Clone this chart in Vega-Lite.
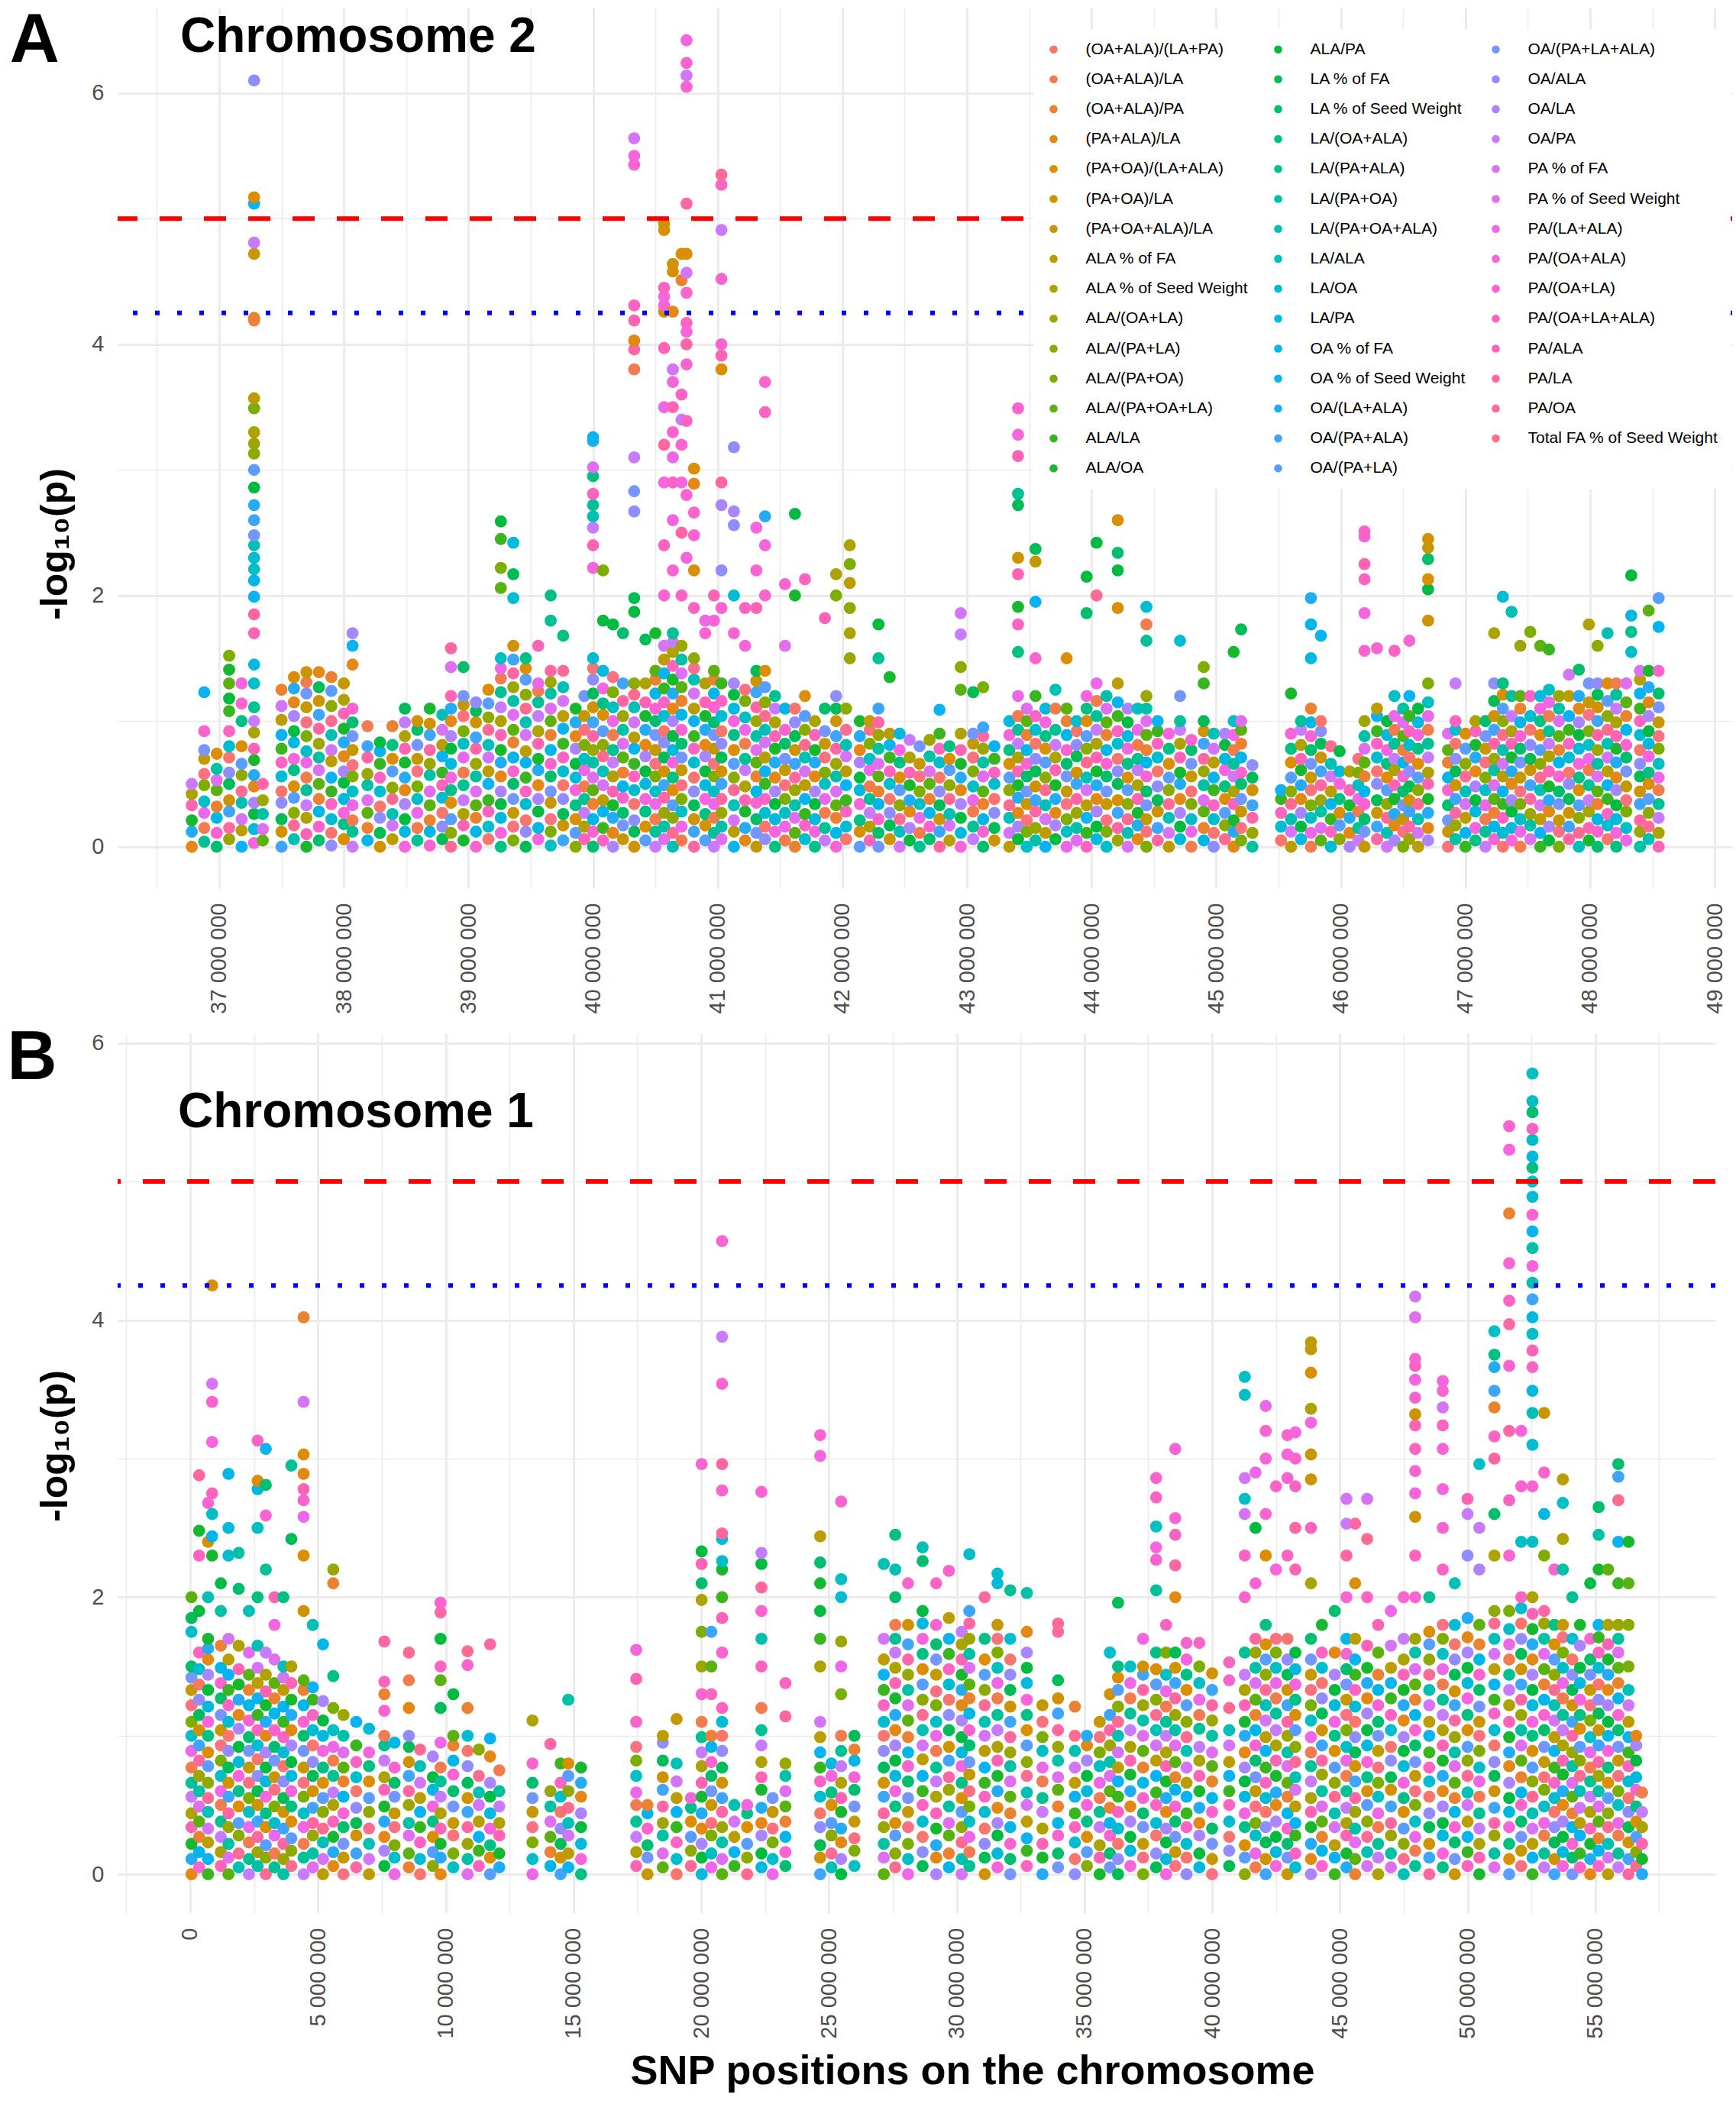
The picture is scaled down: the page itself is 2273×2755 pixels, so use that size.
{
"$schema":"https://vega.github.io/schema/vega-lite/v6.json",
"background":"white",
"padding":{"left":9,"top":8,"right":2,"bottom":2},
"spacing":12,
"config":{"view":{"stroke":null},"font":"Liberation Sans",
"locale":{"number":{"decimal":".","thousands":" ","grouping":[3],"currency":["",""]}},
"axis":{"domain":false,"ticks":false,"tickSize":0,"gridColor":"#EBEBEB","labelColor":"#4D4D4D","labelFontSize":29,"labelFont":"Liberation Sans","titleFont":"Liberation Sans","titleFontWeight":"bold","titleColor":"#000000","labelOverlap":false,"labelFlush":false}},
"resolve":{"scale":{"color":"independent"},"legend":{"color":"independent"}},
"datasets":{
"traits":[{"i":0,"trait":"(OA+ALA)/(LA+PA)"},{"i":1,"trait":"(OA+ALA)/LA"},{"i":2,"trait":"(OA+ALA)/PA"},{"i":3,"trait":"(PA+ALA)/LA"},{"i":4,"trait":"(PA+OA)/(LA+ALA)"},{"i":5,"trait":"(PA+OA)/LA"},{"i":6,"trait":"(PA+OA+ALA)/LA"},{"i":7,"trait":"ALA % of FA"},{"i":8,"trait":"ALA % of Seed Weight"},{"i":9,"trait":"ALA/(OA+LA)"},{"i":10,"trait":"ALA/(PA+LA)"},{"i":11,"trait":"ALA/(PA+OA)"},{"i":12,"trait":"ALA/(PA+OA+LA)"},{"i":13,"trait":"ALA/LA"},{"i":14,"trait":"ALA/OA"},{"i":15,"trait":"ALA/PA"},{"i":16,"trait":"LA % of FA"},{"i":17,"trait":"LA % of Seed Weight"},{"i":18,"trait":"LA/(OA+ALA)"},{"i":19,"trait":"LA/(PA+ALA)"},{"i":20,"trait":"LA/(PA+OA)"},{"i":21,"trait":"LA/(PA+OA+ALA)"},{"i":22,"trait":"LA/ALA"},{"i":23,"trait":"LA/OA"},{"i":24,"trait":"LA/PA"},{"i":25,"trait":"OA % of FA"},{"i":26,"trait":"OA % of Seed Weight"},{"i":27,"trait":"OA/(LA+ALA)"},{"i":28,"trait":"OA/(PA+ALA)"},{"i":29,"trait":"OA/(PA+LA)"},{"i":30,"trait":"OA/(PA+LA+ALA)"},{"i":31,"trait":"OA/ALA"},{"i":32,"trait":"OA/LA"},{"i":33,"trait":"OA/PA"},{"i":34,"trait":"PA % of FA"},{"i":35,"trait":"PA % of Seed Weight"},{"i":36,"trait":"PA/(LA+ALA)"},{"i":37,"trait":"PA/(OA+ALA)"},{"i":38,"trait":"PA/(OA+LA)"},{"i":39,"trait":"PA/(OA+LA+ALA)"},{"i":40,"trait":"PA/ALA"},{"i":41,"trait":"PA/LA"},{"i":42,"trait":"PA/OA"},{"i":43,"trait":"Total FA % of Seed Weight"}],
"chr2":[
{"x":36.78,"y":[0,12,21,33,42,50],"t":[3,27,14,40,8,33]},
{"x":36.88,"y":[4,15,27,36,49,58,70,77,92,123],"t":[19,1,36,22,11,43,6,30,38,26]},
{"x":36.98,"y":[0,11,23,32,45,53,62,74],"t":[17,38,25,2,12,35,20,4]},
{"x":37.08,"y":[6,15,28,37,50,59,71,80,92,108,118,130,141,152],"t":[9,41,28,5,16,31,0,23,39,13,15,12,14,11]},
{"x":37.18,"y":[0,13,22,35,44,57,66,80,100,114,130],"t":[26,7,34,21,42,10,29,4,18,38,37]},
{"x":37.28,"y":[3,14,26,35,48,57,69,78,91,100,111,130,145,170,185,199,212,221,230,240,248,260,272,286,300,313,321,330,349,357,419,421,472,481,512,517,610],"t":[37,24,15,32,3,27,14,40,8,33,19,22,24,40,41,26,25,22,23,21,30,28,27,15,29,10,9,8,11,7,1,2,6,33,26,4,31]},
{"x":37.35,"y":[5,14,26,37,50],"t":[12,35,20,9,41]},
{"x":37.5,"y":[0,12,22,35,44,56,67,78,89,101,112,125],"t":[28,5,16,31,0,23,39,13,26,7,34,2]},
{"x":37.6,"y":[6,17,27,39,48,61,70,83,92,104,115,126,135],"t":[21,42,10,29,4,18,37,24,15,32,3,27,4]},
{"x":37.7,"y":[0,10,23,33,45,55,67,76,88,99,111,122,131,139],"t":[14,40,8,33,19,1,36,22,11,43,6,30,1,5]},
{"x":37.8,"y":[5,16,28,38,50,61,71,82,94,105,116,127,139],"t":[17,38,25,2,12,35,20,9,41,28,5,16,3]},
{"x":37.9,"y":[1,11,22,34,44,55,68,77,89,100,112,124,135],"t":[31,0,23,39,13,26,7,34,21,42,10,29,2]},
{"x":38.0,"y":[6,18,27,38,51,60,72,83,94,106,117,130],"t":[4,18,37,24,15,32,3,27,14,40,8,6]},
{"x":38.07,"y":[0,12,21,33,44,56,65,77,88,99,110,145,160,170],"t":[33,19,1,36,22,11,43,6,30,17,38,3,26,32]},
{"x":38.19,"y":[5,15,27,37,49,58,71,80,96],"t":[25,2,12,35,20,9,41,28,1]},
{"x":38.29,"y":[0,11,23,32,44,55,66,76,83],"t":[5,16,31,0,23,39,13,26,15]},
{"x":38.39,"y":[6,17,26,38,47,60,70,81,96],"t":[7,34,21,42,10,29,4,18,2]},
{"x":38.49,"y":[0,12,22,34,45,55,67,78,88,99,110],"t":[37,24,15,32,3,27,14,40,8,33,16]},
{"x":38.59,"y":[5,15,27,38,48,60,70,81,93,100],"t":[19,1,36,22,11,43,6,30,17,5]},
{"x":38.69,"y":[1,12,21,33,44,57,66,77,89,98,110],"t":[38,25,2,12,35,20,9,41,28,5,14]},
{"x":38.79,"y":[6,16,27,39,49,59,72,81,93,105],"t":[16,31,0,23,39,13,26,7,34,21]},
{"x":38.86,"y":[0,11,22,35,45,55,66,78,88,100,110,120,143,158],"t":[42,10,29,4,18,37,24,15,32,3,27,40,35,41]},
{"x":38.96,"y":[5,17,26,37,49,59,71,82,92,104,113,120,143],"t":[14,40,8,33,19,1,36,22,11,43,6,30,17]},
{"x":39.06,"y":[0,12,23,33,44,56,66,78,87,99,108,115],"t":[38,25,2,12,35,20,9,41,28,5,16,31]},
{"x":39.16,"y":[6,16,28,37,50,60,71,81,93,103,114,125],"t":[0,23,39,13,26,7,34,21,42,10,29,4]},
{"x":39.26,"y":[0,11,23,34,44,56,67,77,89,100,111,123,134,142,150,206,222,245,259],"t":[18,37,24,15,32,3,27,14,40,8,33,19,1,36,22,12,11,13,15]},
{"x":39.36,"y":[5,16,27,38,50,60,71,83,93,105,116,127,138,149,160,198,217,242],"t":[11,43,6,30,17,38,25,2,12,35,20,9,41,28,5,23,16,24]},
{"x":39.46,"y":[0,12,21,34,44,55,67,76,89,99,110,121,133,142,150],"t":[16,31,0,23,39,13,26,7,34,21,42,10,29,4,18]},
{"x":39.56,"y":[6,15,28,38,49,61,70,82,92,104,115,124,130,160],"t":[37,24,15,32,3,27,14,40,8,33,19,1,36,40]},
{"x":39.66,"y":[1,12,22,35,44,56,66,77,89,100,110,122,131,140,180,200],"t":[22,11,43,6,30,17,38,25,2,12,35,20,9,41,19,18]},
{"x":39.76,"y":[5,17,26,38,49,60,71,82,94,104,116,127,140,168],"t":[28,5,16,31,0,23,39,13,26,7,34,21,42,18]},
{"x":39.86,"y":[0,11,22,33,45,55,66,78,88,99,110],"t":[10,29,4,18,37,24,15,32,3,27,14]},
{"x":39.93,"y":[6,16,27,38,48,61,70,81,93,104,120],"t":[40,8,33,19,1,36,22,11,43,6,30]},
{"x":40.0,"y":[0,12,22,34,45,55,67,77,88,99,111,122,133,142,150,222,240,254,263,272,281,295,302,323,326],"t":[17,38,25,2,12,35,20,9,41,28,5,16,31,0,23,37,40,33,21,19,39,18,35,27,26]},
{"x":40.08,"y":[5,15,28,37,49,60,72,81,92,105,114,126,140,180,220],"t":[39,13,26,7,34,21,42,10,29,4,18,37,24,15,11]},
{"x":40.16,"y":[0,11,23,33,44,56,67,77,89,100,111,123,135,177],"t":[32,3,27,14,40,8,33,19,1,36,22,11,43,15]},
{"x":40.24,"y":[6,17,27,39,48,59,71,82,93,104,116,130,170],"t":[6,30,17,38,25,2,12,35,20,9,41,28,17]},
{"x":40.33,"y":[0,12,21,34,45,56,66,78,87,99,111,121,130,187,198,267,283,310,380,396,403,419,431,543,550,564],"t":[5,16,31,0,23,39,13,26,7,34,21,42,10,15,16,31,30,33,1,41,3,40,39,38,37,34]},
{"x":40.42,"y":[5,16,28,38,50,60,72,81,93,104,115,130,165],"t":[29,4,18,37,24,15,32,3,27,14,40,8,16]},
{"x":40.5,"y":[0,12,22,34,44,56,66,77,89,100,110,122,133,140,170],"t":[33,19,1,36,22,11,43,6,30,17,38,25,2,12,14]},
{"x":40.57,"y":[6,16,27,39,49,60,71,83,92,104,115,126,138,149,160,200,240,290,320,350,397,426,431,438,445,491,496],"t":[35,20,9,41,28,5,16,31,0,23,39,13,26,7,34,38,39,37,41,36,40,5,38,37,39,4,5]},
{"x":40.64,"y":[0,11,23,33,45,55,67,77,88,100,110,122,133,144,155,163,170,220,260,290,310,330,350,370,380,426,458,464],"t":[21,42,10,29,4,18,37,24,15,32,3,27,14,40,8,33,19,38,37,39,36,38,40,37,34,3,4,5]},
{"x":40.71,"y":[5,16,28,38,49,61,71,82,93,105,116,127,138,149,160,200,250,290,320,340,360,451,472],"t":[1,36,22,11,43,6,30,17,38,25,2,12,35,20,9,39,41,37,38,33,39,2,4]},
{"x":40.75,"y":[230,280,339,384,400,410,417,441,457,472,512,605,614,624,642],"t":[37,38,39,38,41,37,39,38,34,4,41,38,34,38,37]},
{"x":40.81,"y":[0,12,22,33,44,55,67,78,88,100,110,122,133,142,150,190,220,248,266,289,301],"t":[41,28,5,16,31,0,23,39,13,26,7,34,21,42,10,39,4,38,38,3,4]},
{"x":40.9,"y":[5,17,26,38,49,60,72,81,93,104,115,130,170,180],"t":[29,4,18,37,24,15,32,3,27,14,40,8,38,36]},
{"x":40.97,"y":[0,11,23,34,44,56,66,78,89,99,111,122,133,140,180,200],"t":[33,19,1,36,22,11,43,6,30,17,38,25,2,12,37,40]},
{"x":41.03,"y":[6,16,27,38,50,60,71,82,92,104,116,130,190,220,272,290,380,391,400,452,491,527,535],"t":[35,20,9,41,28,5,16,31,0,23,39,13,38,31,32,41,4,40,38,38,33,39,42]},
{"x":41.13,"y":[0,12,21,33,45,55,66,77,89,100,110,121,130,170,200,256,267,318],"t":[26,7,34,21,42,10,29,4,18,37,24,15,32,38,23,31,32,31]},
{"x":41.22,"y":[5,15,28,37,48,61,70,82,93,103,116,125,160,190],"t":[3,27,14,40,8,33,19,1,36,22,11,43,37,39]},
{"x":41.31,"y":[0,11,22,35,44,56,67,77,88,100,111,123,132,140,190,220,254],"t":[6,30,17,38,25,2,12,35,20,9,41,28,5,16,40,38,37]},
{"x":41.38,"y":[6,16,27,38,50,60,71,83,93,104,115,127,140,200,240,263,346,370],"t":[31,0,23,39,13,26,7,34,21,42,10,29,4,38,37,27,39,38]},
{"x":41.46,"y":[0,12,22,34,44,55,67,78,88,99,110,120],"t":[18,37,24,15,32,3,27,14,40,8,33,19]},
{"x":41.54,"y":[5,16,27,38,49,61,70,82,93,110,160,209],"t":[1,36,22,11,43,6,30,17,38,25,35,38]},
{"x":41.62,"y":[0,11,23,33,45,55,66,77,88,99,110,200,265],"t":[2,12,35,20,9,41,28,5,16,31,0,14,15]},
{"x":41.7,"y":[6,17,26,38,49,60,71,81,93,104,120,213],"t":[23,39,13,26,7,34,21,42,10,29,4,39]},
{"x":41.78,"y":[0,12,22,34,44,56,67,77,89,100],"t":[18,37,24,15,32,3,27,14,40,8]},
{"x":41.86,"y":[5,15,27,38,50,59,71,82,92,110,182],"t":[33,19,1,36,22,11,43,6,30,17,40]},
{"x":41.95,"y":[0,11,23,33,44,56,66,78,88,100,110,120,200,217],"t":[38,25,2,12,35,20,9,41,28,5,16,31,11,8]},
{"x":42.03,"y":[6,16,28,37,49,60,72,81,93,110],"t":[0,23,39,13,26,7,34,21,42,10]},
{"x":42.06,"y":[150,170,190,210,225,240],"t":[9,8,10,7,11,8]},
{"x":42.14,"y":[0,12,21,34,45,55,67,77,88,100],"t":[29,4,18,37,24,15,32,3,27,14]},
{"x":42.22,"y":[5,16,27,38,48,61,70,82,93,100],"t":[40,8,33,19,1,36,22,11,43,6]},
{"x":42.29,"y":[0,11,22,34,44,56,66,78,89,99,110,150,177],"t":[30,17,38,25,2,12,35,20,9,41,28,19,15]},
{"x":42.38,"y":[6,17,27,38,50,60,71,81,90,135],"t":[5,16,31,0,23,39,13,26,7,14]},
{"x":42.46,"y":[0,12,22,33,45,55,67,77,90],"t":[34,21,42,10,29,4,18,37,24]},
{"x":42.54,"y":[5,15,28,37,49,59,71,85],"t":[15,32,3,27,14,40,8,33]},
{"x":42.62,"y":[0,11,23,34,44,56,66,80],"t":[19,1,36,22,11,43,6,30]},
{"x":42.7,"y":[6,16,27,38,50,60,72,85],"t":[17,38,25,2,12,35,20,9]},
{"x":42.78,"y":[0,12,22,33,44,55,67,78,90,109],"t":[41,28,5,16,31,0,23,39,13,26]},
{"x":42.86,"y":[5,17,26,38,49,61,70,80],"t":[7,34,21,42,10,29,4,18]},
{"x":42.95,"y":[0,11,23,34,45,55,66,77,90,125,143,169,186],"t":[37,24,15,32,3,27,14,40,8,12,10,33,34]},
{"x":43.05,"y":[6,16,28,37,48,60,71,82,90,123],"t":[33,19,1,36,22,11,43,6,30,16]},
{"x":43.13,"y":[0,12,22,34,44,56,67,78,88,95,127],"t":[17,38,25,2,12,35,20,9,41,28,11]},
{"x":43.22,"y":[5,15,27,38,50,59,70,80],"t":[5,16,31,0,23,39,13,26]},
{"x":43.34,"y":[0,11,23,33,45,55,66,77,89,100],"t":[7,34,21,42,10,29,4,18,37,24]},
{"x":43.41,"y":[6,16,27,39,49,60,71,82,93,104,120,155,177,191,217,230,272,281,311,328,349],"t":[15,32,3,27,14,40,8,33,19,1,36,18,39,14,40,5,16,19,40,37,38]},
{"x":43.48,"y":[0,12,21,34,44,56,66,77,89,100,110],"t":[22,11,43,6,30,17,38,25,2,12,35]},
{"x":43.55,"y":[5,15,28,37,48,60,70,82,93,104,120,150,195,227,237],"t":[20,9,41,28,5,16,31,0,23,39,13,38,26,6,16]},
{"x":43.63,"y":[0,11,22,33,45,55,67,78,88,99,110],"t":[26,7,34,21,42,10,29,4,18,37,24]},
{"x":43.71,"y":[6,17,27,38,49,61,71,81,93,110,125],"t":[15,32,3,27,14,40,8,33,19,1,21]},
{"x":43.8,"y":[0,12,22,34,44,56,66,77,89,100,110,150],"t":[36,22,11,43,6,30,17,38,25,2,12,4]},
{"x":43.88,"y":[5,15,27,38,50,59,72,81,92,100],"t":[35,20,9,41,28,5,16,31,0,23]},
{"x":43.96,"y":[0,11,23,33,45,55,67,78,88,100,110,120,186,215],"t":[39,13,26,7,34,21,42,10,29,4,18,37,17,15]},
{"x":44.04,"y":[6,16,28,38,49,60,71,82,93,104,116,130,200,242],"t":[24,15,32,3,27,14,40,8,33,19,1,36,42,15]},
{"x":44.12,"y":[0,12,21,34,44,56,66,77,89,99,110,120],"t":[22,11,43,6,30,17,38,25,2,12,35,20]},
{"x":44.21,"y":[5,15,27,37,50,60,70,82,92,104,115,130,190,220,234,260],"t":[9,41,28,5,16,31,0,23,39,13,26,7,4,15,17,4]},
{"x":44.29,"y":[0,11,22,34,45,55,66,78,88,99,110],"t":[34,21,42,10,29,4,18,37,24,15,32]},
{"x":44.37,"y":[6,17,27,38,49,61,70,81,93,110],"t":[3,27,14,40,8,33,19,1,36,22]},
{"x":44.44,"y":[0,12,22,33,44,56,67,77,89,100,110,120,164,177,191],"t":[11,43,6,30,17,38,25,2,12,35,20,9,19,1,23]},
{"x":44.53,"y":[5,15,28,37,48,60,71,82,92,100],"t":[41,28,5,16,31,0,23,39,13,26]},
{"x":44.62,"y":[0,11,23,34,45,55,66,78,90],"t":[7,34,21,42,10,29,4,18,37]},
{"x":44.71,"y":[6,16,27,38,50,59,71,82,93,100,120,164],"t":[24,15,32,3,27,14,40,8,33,19,30,23]},
{"x":44.8,"y":[0,12,22,34,44,56,66,77,85],"t":[1,36,22,11,43,6,30,17,38]},
{"x":44.9,"y":[5,15,28,37,49,60,70,82,92,100,130,143],"t":[25,2,12,35,20,9,41,28,5,16,13,11]},
{"x":44.98,"y":[0,11,22,33,45,55,67,78,90],"t":[31,0,23,39,13,26,7,34,21]},
{"x":45.07,"y":[6,17,27,38,48,61,70,81,90],"t":[42,10,29,4,18,37,24,15,32]},
{"x":45.14,"y":[0,12,21,34,44,56,66,77,89,100,155],"t":[3,27,14,40,8,33,19,1,36,22,14]},
{"x":45.2,"y":[5,15,28,38,50,59,71,82,93,100,173],"t":[11,43,6,30,17,38,25,2,12,35,16]},
{"x":45.29,"y":[0,11,23,33,45,55,65],"t":[20,9,41,28,5,16,31]},
{"x":45.52,"y":[5,16,27,38,45],"t":[0,23,39,13,26]},
{"x":45.6,"y":[0,12,22,34,44,55,67,78,90,122],"t":[7,34,21,42,10,29,4,18,37,14]},
{"x":45.68,"y":[6,16,27,38,49,61,70,81,93,100],"t":[24,15,32,3,27,14,40,8,33,19]},
{"x":45.76,"y":[0,11,23,33,45,55,66,77,88,99,110,150,177,198],"t":[1,36,22,11,43,6,30,17,38,25,2,24,25,27]},
{"x":45.84,"y":[5,15,28,37,49,60,71,82,92,100,168],"t":[12,35,20,9,41,28,5,16,31,0,26]},
{"x":45.92,"y":[0,12,22,34,44,56,66,80],"t":[23,39,13,26,7,34,21,42]},
{"x":45.99,"y":[6,17,27,38,50,60,76],"t":[10,29,4,18,37,24,15]},
{"x":46.07,"y":[0,11,23,33,45,60],"t":[32,3,27,14,40,8]},
{"x":46.14,"y":[5,15,28,38,49,59,70],"t":[33,19,1,36,22,11,43]},
{"x":46.19,"y":[0,12,22,34,44,56,67,78,88,100,156,186,213,225,247,251],"t":[6,30,17,38,25,2,12,35,20,9,38,37,39,40,38,39]},
{"x":46.29,"y":[6,16,27,37,50,60,71,82,92,104,110,158],"t":[41,28,5,16,31,0,23,39,13,26,7,38]},
{"x":46.37,"y":[0,11,23,34,45,55,66,77,89,100],"t":[34,21,42,10,29,4,18,37,24,15]},
{"x":46.43,"y":[5,17,26,38,49,61,70,82,93,104,120,156],"t":[32,3,27,14,40,8,33,19,1,36,22,39]},
{"x":46.5,"y":[0,12,22,33,44,56,67,77,88,99,110],"t":[11,43,6,30,17,38,25,2,12,35,20]},
{"x":46.55,"y":[6,16,28,37,48,60,71,81,92,104,120,164],"t":[9,41,28,5,16,31,0,23,39,13,26,38]},
{"x":46.62,"y":[0,11,22,34,45,55,66,78,89,99,110],"t":[7,34,21,42,10,29,4,18,37,24,15]},
{"x":46.7,"y":[5,15,27,38,50,59,71,82,93,104,115,130,180,205,213,229,238,245],"t":[32,3,27,14,40,8,33,19,1,36,22,11,5,15,4,17,6,5]},
{"x":46.86,"y":[0,12,21,33,45,55,67,77,90],"t":[43,6,30,17,38,25,2,12,35]},
{"x":46.92,"y":[6,17,27,38,49,60,70,82,93,100,130],"t":[20,9,41,28,5,16,31,0,23,39,33]},
{"x":47.0,"y":[0,11,23,34,44,56,66,78,90],"t":[13,26,7,34,21,42,10,29,4]},
{"x":47.08,"y":[5,15,28,37,48,60,71,81,92,100],"t":[18,37,24,15,32,3,27,14,40,8]},
{"x":47.16,"y":[0,12,22,33,45,55,67,78,88,100],"t":[33,19,1,36,22,11,43,6,30,17]},
{"x":47.23,"y":[6,16,27,38,49,61,70,82,93,104,116,130,170],"t":[38,25,2,12,35,20,9,41,28,5,16,31,8]},
{"x":47.3,"y":[0,11,23,34,44,56,66,77,89,100,110,121,130,199],"t":[0,23,39,13,26,7,34,21,42,10,29,4,18,23]},
{"x":47.37,"y":[5,15,28,37,50,60,71,82,92,104,120,187],"t":[37,24,15,32,3,27,14,40,8,33,19,21]},
{"x":47.44,"y":[0,12,22,34,44,55,67,78,88,99,110,120,160],"t":[1,36,22,11,43,6,30,17,38,25,2,12,9]},
{"x":47.52,"y":[6,17,26,38,49,61,70,81,93,104,120,171],"t":[35,20,9,41,28,5,16,31,0,23,39,11]},
{"x":47.6,"y":[0,11,22,33,45,55,66,77,89,100,110,120,160],"t":[13,26,7,34,21,42,10,29,4,18,37,24,12]},
{"x":47.67,"y":[5,16,28,37,48,60,72,82,92,104,115,125,157],"t":[15,32,3,27,14,40,8,33,19,1,36,22,13]},
{"x":47.75,"y":[0,12,21,34,44,56,67,77,88,100,110,120],"t":[11,43,6,30,17,38,25,2,12,35,20,9]},
{"x":47.83,"y":[6,16,27,38,50,59,71,82,93,104,120,137],"t":[41,28,5,16,31,0,23,39,13,26,7,34]},
{"x":47.91,"y":[0,11,23,33,45,55,66,78,89,99,110,120,141],"t":[21,42,10,29,4,18,37,24,15,32,3,27,17]},
{"x":47.99,"y":[5,15,28,37,49,61,70,81,92,105,115,130,177],"t":[14,40,8,33,19,1,36,22,11,43,6,30,8]},
{"x":48.06,"y":[0,12,22,34,44,56,66,77,89,100,111,121,130,160],"t":[17,38,25,2,12,35,20,9,41,28,5,16,31,10]},
{"x":48.14,"y":[6,17,26,38,49,60,71,82,93,104,116,130,170],"t":[0,23,39,13,26,7,34,21,42,10,29,4,21]},
{"x":48.21,"y":[0,11,22,33,45,55,67,78,88,99,110,121,130],"t":[18,37,24,15,32,3,27,14,40,8,33,19,1]},
{"x":48.29,"y":[5,15,28,37,48,60,71,81,93,104,115,130],"t":[36,22,11,43,6,30,17,38,25,2,12,35]},
{"x":48.33,"y":[155,171,184,216],"t":[22,19,24,15]},
{"x":48.4,"y":[0,12,21,34,44,56,66,77,89,100,110,122,133,140],"t":[20,9,41,28,5,16,31,0,23,39,13,26,7,34]},
{"x":48.47,"y":[6,16,27,38,50,59,72,82,92,104,115,127,140,188],"t":[21,42,10,29,4,18,37,24,15,32,3,27,14,12]},
{"x":48.55,"y":[0,11,23,34,45,55,66,78,88,99,111,122,140,175,198],"t":[40,8,33,19,1,36,22,11,43,6,30,17,38,25,29]}
],
"chr1":[
{"x":0.05,"y":[0,11,22,34,44,56,66,77,89,100,110,122,133,142,150,175,185,200],"t":[3,27,14,40,8,33,19,1,36,22,11,43,6,30,17,22,16,12]},
{"x":0.35,"y":[5,16,27,38,49,60,71,82,93,104,115,126,137,148,160,190,230,248,288],"t":[38,25,2,12,35,20,9,41,28,5,16,31,0,23,39,15,39,14,41]},
{"x":0.7,"y":[0,11,23,33,45,55,66,78,88,100,110,121,133,144,155,163,170,200,240,268],"t":[13,26,7,34,21,42,10,29,4,18,37,24,15,32,3,27,14,21,4,38]},
{"x":0.86,"y":[230,244,260,275,312,341,354,425],"t":[14,25,22,39,37,38,34,4]},
{"x":1.2,"y":[6,16,27,38,50,60,71,82,93,104,115,127,138,149,165,190,210],"t":[40,8,33,19,1,36,22,11,43,6,30,17,38,25,2,20,15]},
{"x":1.5,"y":[0,12,22,34,44,56,66,77,89,100,110,122,133,144,155,170,230,250,289],"t":[12,35,20,9,41,28,5,16,31,0,23,39,13,26,7,34,23,24,25]},
{"x":1.9,"y":[5,15,28,37,49,60,71,81,92,105,115,126,137,148,165,206,232],"t":[21,42,10,29,4,18,37,24,15,32,3,27,14,40,8,17,20]},
{"x":2.3,"y":[0,11,23,34,45,55,66,77,89,99,111,122,133,144,160,190],"t":[33,19,1,36,22,11,43,6,30,17,38,25,2,12,35,21]},
{"x":2.64,"y":[6,16,27,38,50,60,71,83,93,104,115,127,138,149,165,200,250,278,284,313],"t":[20,9,41,28,5,16,31,0,23,39,13,26,7,34,21,18,22,24,4,39]},
{"x":2.96,"y":[0,12,21,34,44,56,67,77,88,100,110,122,132,144,160,220,259,281,307],"t":[42,10,29,4,18,37,24,15,32,3,27,14,40,8,33,19,38,17,26]},
{"x":3.3,"y":[5,15,28,37,49,61,70,82,92,104,116,127,138,155,180,200],"t":[19,1,36,22,11,43,6,30,17,38,25,2,12,35,37,40]},
{"x":3.65,"y":[0,11,22,33,45,55,67,78,88,99,110,121,133,142,150,200],"t":[20,9,41,28,5,16,31,0,23,39,13,26,7,34,21,18]},
{"x":3.96,"y":[6,17,26,38,49,60,71,81,93,104,115,126,138,150,242,295],"t":[42,10,29,4,18,37,24,15,32,3,27,14,40,8,16,19]},
{"x":4.44,"y":[0,12,22,34,44,56,66,77,89,100,110,122,133,140,190,230,258,270,278,289,303,341,402],"t":[33,19,1,36,22,11,43,6,30,17,38,25,2,12,5,4,36,38,40,3,4,34,2]},
{"x":4.8,"y":[5,15,28,37,48,60,71,81,93,104,115,126,135,180],"t":[35,20,9,41,28,5,16,31,0,23,39,13,26,21]},
{"x":5.2,"y":[0,11,23,33,45,55,66,77,89,100,111,125,166],"t":[7,34,21,42,10,29,4,18,37,24,15,32,25]},
{"x":5.6,"y":[6,16,27,38,50,59,71,82,92,104,120,143,210,220],"t":[3,27,14,40,8,33,19,1,36,22,11,18,2,9]},
{"x":6.0,"y":[0,12,22,34,44,56,67,77,88,100,115],"t":[43,6,30,17,38,25,2,12,35,20,9]},
{"x":6.5,"y":[5,15,28,37,48,60,70,81,93,110],"t":[41,28,5,16,31,0,23,39,13,26]},
{"x":7.0,"y":[0,11,22,33,45,55,67,78,88,105],"t":[7,34,21,42,10,29,4,18,37,24]},
{"x":7.6,"y":[6,17,27,38,49,61,70,82,93,100,118,130,139,168],"t":[15,32,3,27,14,40,8,33,19,1,38,2,39,41]},
{"x":8.0,"y":[0,12,21,34,44,56,66,77,95],"t":[36,22,11,43,6,30,17,38,25]},
{"x":8.56,"y":[5,15,28,37,50,60,71,81,92,100,120,140,160],"t":[2,12,35,20,9,41,28,5,16,31,3,1,42]},
{"x":9.0,"y":[0,11,23,34,45,55,66,78,90],"t":[0,23,39,13,26,7,34,21,42]},
{"x":9.5,"y":[6,16,27,38,49,61,70,85],"t":[10,29,4,18,37,24,15,32]},
{"x":9.8,"y":[0,12,22,33,44,56,67,77,95,120,140,150,170,189,196],"t":[3,27,14,40,8,33,19,1,36,16,12,39,15,41,38]},
{"x":10.3,"y":[5,15,28,37,49,60,72,82,93,100,130],"t":[22,11,43,6,30,17,38,25,2,12,15]},
{"x":10.86,"y":[0,11,22,34,45,55,66,78,89,100,120,151,161],"t":[35,20,9,41,28,5,16,31,0,23,2,38,42]},
{"x":11.3,"y":[6,17,27,38,50,59,71,90],"t":[39,13,26,7,34,21,42,10]},
{"x":11.74,"y":[0,12,21,33,44,56,66,85,98,166],"t":[29,4,18,37,24,15,32,3,26,41]},
{"x":12.1,"y":[5,15,28,37,49,60,75],"t":[27,14,40,8,33,19,1]},
{"x":13.4,"y":[0,11,23,34,45,55,66,80,111],"t":[36,22,11,43,6,30,17,38,8]},
{"x":14.1,"y":[6,16,27,38,49,60,94],"t":[25,2,12,35,20,9,41]},
{"x":14.5,"y":[0,12,22,33,45,56,66,80],"t":[28,5,16,31,0,23,39,13]},
{"x":14.8,"y":[5,15,28,37,48,60,71,80,126],"t":[26,7,34,21,42,10,29,4,20]},
{"x":15.3,"y":[0,11,22,34,44,56,66,77],"t":[18,37,24,15,32,3,27,14]},
{"x":17.46,"y":[6,16,27,38,50,59,71,82,92,110,141,162],"t":[40,8,33,19,1,36,22,11,43,38,40,37]},
{"x":17.9,"y":[0,12,21,33,44,50],"t":[6,30,17,38,25,2]},
{"x":18.5,"y":[5,15,28,37,49,61,70,82,95,100],"t":[12,35,20,9,41,28,5,16,31,7]},
{"x":19.04,"y":[0,11,23,34,45,55,67,80,112],"t":[0,23,39,13,26,7,34,21,6]},
{"x":19.6,"y":[6,17,27,38,48,55],"t":[42,10,29,4,18,37]},
{"x":20.02,"y":[0,12,22,33,44,56,66,78,88,99,110,130,150,175,198,210,224,233,296],"t":[24,15,32,3,27,14,40,8,33,19,1,38,9,11,8,17,40,15,38]},
{"x":20.4,"y":[5,15,28,37,50,60,71,81,92,100,130,150,175],"t":[36,22,11,43,6,30,17,38,25,2,39,12,28]},
{"x":20.82,"y":[0,11,23,34,45,55,66,77,89,100,110,120,160,185,200,220,226,242,246,277,296,354,388,457],"t":[12,35,20,9,41,28,5,16,31,0,23,39,38,40,13,14,22,23,41,38,41,38,33,38]},
{"x":21.3,"y":[6,16,27,38,50],"t":[13,26,7,34,21]},
{"x":21.8,"y":[0,12,22,34,44,50],"t":[42,10,29,4,18,37]},
{"x":22.36,"y":[5,15,28,37,48,61,70,81,93,104,120,150,170,190,207,224,232,276],"t":[24,15,32,3,27,14,40,8,33,19,1,39,20,38,41,15,33,38]},
{"x":22.8,"y":[0,11,23,33,45,55],"t":[36,22,11,43,6,30]},
{"x":23.3,"y":[6,16,27,38,49,60,71,80,114,138],"t":[17,38,25,2,12,35,20,9,41,39]},
{"x":24.66,"y":[0,12,21,34,44,56,67,77,88,99,110,150,170,190,210,225,244,302,317],"t":[28,5,16,31,0,23,39,13,26,7,34,8,13,15,14,17,7,37,38]},
{"x":25.1,"y":[5,15,28,37,50,59,71,80],"t":[21,42,10,29,4,18,37,24]},
{"x":25.48,"y":[0,11,23,33,45,55,66,78,89,100,130,150,168,200,213,269],"t":[15,32,3,27,14,40,8,33,19,1,11,36,9,23,22,38]},
{"x":26.0,"y":[6,17,26,38,49,61,70,82,90,100],"t":[22,11,43,6,30,17,38,25,2,16]},
{"x":27.15,"y":[0,12,22,34,44,56,66,77,89,100,110,122,133,144,155,170,224],"t":[12,35,20,9,41,28,5,16,31,0,23,39,13,26,7,34,21]},
{"x":27.6,"y":[5,15,28,37,49,60,71,82,93,104,115,127,138,149,160,170,180,200,220,245],"t":[42,10,29,4,18,37,24,15,32,3,27,14,40,8,33,19,1,17,21,18]},
{"x":28.1,"y":[0,11,22,34,45,55,67,78,88,99,111,122,133,144,155,166,180,210],"t":[36,22,11,43,6,30,17,38,25,2,12,35,20,9,41,28,5,38]},
{"x":28.67,"y":[6,16,27,38,50,60,71,83,93,104,115,126,137,148,159,170,181,190,226,236],"t":[16,31,0,23,39,13,26,7,34,21,42,10,29,4,18,37,24,15,17,21]},
{"x":29.2,"y":[0,12,21,33,44,56,67,77,89,100,110,122,132,144,155,166,180,210],"t":[32,3,27,14,40,8,33,19,1,36,22,11,43,6,30,17,38,39]},
{"x":29.7,"y":[5,15,28,37,49,61,70,82,92,104,115,126,137,148,159,170,185,219],"t":[25,2,12,35,20,9,41,28,5,16,31,0,23,39,13,26,7,38]},
{"x":30.2,"y":[0,11,23,34,45,55,66,78,88,99,111,122,133,144,155,166,175],"t":[34,21,42,10,29,4,18,37,24,15,32,3,27,14,40,8,33]},
{"x":30.5,"y":[6,16,27,38,49,60,72,81,93,104,116,127,137,149,159,170,181,190,231],"t":[19,1,36,22,11,43,6,30,17,38,25,2,12,35,20,9,41,28,22]},
{"x":31.1,"y":[0,12,22,33,45,56,66,77,89,100,110,122,133,144,155,170,200],"t":[5,16,31,0,23,39,13,26,7,34,21,42,10,29,4,18,41]},
{"x":31.6,"y":[5,15,28,37,48,60,71,82,92,104,115,127,138,149,160,170,180,210,217],"t":[37,24,15,32,3,27,14,40,8,33,19,1,36,22,11,43,6,24,23]},
{"x":32.1,"y":[0,11,22,34,44,56,67,78,88,99,110,121,133,144,155,170,205],"t":[30,17,38,25,2,12,35,20,9,41,28,5,16,31,0,23,19]},
{"x":32.75,"y":[6,17,26,38,50,59,71,81,93,104,115,126,138,149,160,175,203],"t":[39,13,26,7,34,21,42,10,29,4,18,37,24,15,32,3,20]},
{"x":33.36,"y":[0,12,22,33,45,55,67,77,89,99,110,122],"t":[27,14,40,8,33,19,1,36,22,11,43,6]},
{"x":33.97,"y":[5,15,28,37,49,61,70,82,92,104,116,127,140,175,181],"t":[30,17,38,25,2,12,35,20,9,41,28,5,16,41,42]},
{"x":34.63,"y":[0,11,23,34,44,56,66,77,89,100,121],"t":[31,0,23,39,13,26,7,34,21,42,2]},
{"x":35.1,"y":[6,16,27,38,50,60,71,82,93,100],"t":[10,29,4,18,37,24,15,32,3,27]},
{"x":35.6,"y":[0,12,21,34,45,55,66,78,88,99,110],"t":[14,40,8,33,19,1,36,22,11,43,6]},
{"x":36.0,"y":[5,15,28,37,48,60,71,81,93,104,115,130,160],"t":[30,17,38,25,2,12,35,20,9,41,28,5,23]},
{"x":36.32,"y":[0,11,22,33,45,56,67,77,88,100,110,121,133,142,150,196],"t":[16,31,0,23,39,13,26,7,34,21,42,10,29,4,18,16]},
{"x":36.8,"y":[6,17,27,38,49,60,72,82,92,104,116,127,138,150],"t":[37,24,15,32,3,27,14,40,8,33,19,1,36,22]},
{"x":37.3,"y":[0,12,22,34,44,55,66,77,89,100,111,122,133,144,150,170],"t":[11,43,6,30,17,38,25,2,12,35,20,9,41,28,5,37]},
{"x":37.81,"y":[5,15,28,37,50,59,71,82,93,104,115,126,137,148,160,205,227,236,251,272,286],"t":[16,31,0,23,39,13,26,7,34,21,42,10,29,4,18,19,38,37,22,39,38]},
{"x":38.2,"y":[0,11,23,33,45,55,67,78,88,100,110,121,132,144,160,180],"t":[37,24,15,32,3,27,14,40,8,33,19,1,36,22,11,39]},
{"x":38.56,"y":[6,16,27,38,49,61,70,81,93,104,115,127,138,149,160,200,223,245,257,307],"t":[43,6,30,17,38,25,2,12,35,20,9,41,28,5,16,3,41,39,38,38]},
{"x":39.0,"y":[0,12,22,34,44,56,66,77,89,99,110,122,133,144,155,167],"t":[31,0,23,39,13,26,7,34,21,42,10,29,4,18,37,38]},
{"x":39.5,"y":[5,15,28,37,48,60,71,82,92,105,115,126,138,150,167],"t":[24,15,32,3,27,14,40,8,33,19,1,36,22,11,39]},
{"x":40.0,"y":[0,11,22,33,45,55,67,78,88,100,111,122,133,145],"t":[43,6,30,17,38,25,2,12,35,20,9,41,28,5]},
{"x":40.67,"y":[6,17,27,38,50,60,71,81,93,104,120,140,153],"t":[16,31,0,23,39,13,26,7,34,21,42,38,39]},
{"x":41.28,"y":[0,12,21,34,44,56,67,77,88,100,110,122,133,144,160,200,230,260,271,286,346,359],"t":[10,29,4,18,37,24,15,32,3,27,14,40,8,33,19,38,39,34,22,34,22,22]},
{"x":41.7,"y":[5,15,28,37,49,60,70,82,93,104,115,126,138,149,160,170,210,250,290],"t":[1,36,22,11,43,6,30,17,38,25,2,12,35,20,9,41,38,15,36]},
{"x":42.1,"y":[0,11,23,34,45,55,66,77,89,99,111,122,133,144,155,166,180,230,260,300,320,338],"t":[28,5,16,31,0,23,39,13,26,7,34,21,42,10,29,4,18,4,38,37,38,36]},
{"x":42.5,"y":[6,16,27,38,50,59,71,82,93,104,116,127,138,149,160,170,220,280],"t":[37,24,15,32,3,27,14,40,8,33,19,1,36,22,11,43,37,39]},
{"x":42.95,"y":[0,12,22,33,44,56,66,78,88,100,110,122,133,144,155,170,230,286,303,317],"t":[6,30,17,38,25,2,12,35,20,9,41,28,5,16,31,0,39,38,37,38]},
{"x":43.26,"y":[5,15,28,37,49,61,70,81,92,104,115,126,137,148,160,220,250,280,300,319],"t":[23,39,13,26,7,34,21,42,10,29,4,18,37,24,15,40,41,39,38,37]},
{"x":43.87,"y":[0,11,22,34,45,55,67,78,88,99,111,122,133,144,155,170,210,250,285,303,326,336,362,379,384],"t":[32,3,27,14,40,8,33,19,1,36,22,11,43,6,30,17,8,39,5,6,37,8,4,6,7]},
{"x":44.3,"y":[6,17,27,38,49,60,72,82,93,104,116,127,138,149,160,180],"t":[38,25,2,12,35,20,9,41,28,5,16,31,0,23,39,14]},
{"x":44.8,"y":[0,12,21,34,44,56,66,77,89,100,110,122,133,144,160,190],"t":[13,26,7,34,21,42,10,29,4,18,37,24,15,32,3,17]},
{"x":45.26,"y":[5,15,28,37,48,60,71,82,92,104,115,126,137,148,159,170,200,230,253,271],"t":[27,14,40,8,33,19,1,36,22,11,43,6,30,17,38,25,38,41,33,34]},
{"x":45.6,"y":[0,11,23,33,45,55,67,78,88,99,110,121,133,144,155,170,210,253],"t":[2,12,35,20,9,41,28,5,16,31,0,23,39,13,26,7,4,41]},
{"x":46.07,"y":[6,16,27,38,50,60,70,81,93,104,116,127,138,149,165,200,242,271],"t":[34,21,42,10,29,4,18,37,24,15,32,3,27,14,40,39,42,34]},
{"x":46.5,"y":[0,12,22,34,44,56,66,77,89,100,110,122,133,144,160,180],"t":[8,33,19,1,36,22,11,43,6,30,17,38,25,2,12,40]},
{"x":47.0,"y":[5,15,28,37,49,61,70,82,92,104,115,127,138,149,165,190],"t":[35,20,9,41,28,5,16,31,0,23,39,13,26,7,34,36]},
{"x":47.5,"y":[0,11,22,33,45,55,66,78,89,99,111,122,133,144,155,170,200],"t":[21,42,10,29,4,18,37,24,15,32,3,27,14,40,8,33,38]},
{"x":47.95,"y":[6,17,27,38,50,60,71,81,93,104,115,126,137,148,160,170,200,230,258,275,291,307,324,332,344,357,367,372,402,417],"t":[19,1,36,22,11,43,6,30,17,38,25,2,12,35,20,9,38,39,5,37,38,39,40,5,38,37,39,38,35,34]},
{"x":48.5,"y":[0,12,22,34,44,56,67,77,88,100,110,122,133,144,155,166,175,200],"t":[41,28,5,16,31,0,23,39,13,26,7,34,21,42,10,29,4,19]},
{"x":49.03,"y":[5,15,28,37,49,60,71,82,93,104,115,126,137,148,159,170,180,220,250,278,307,324,337,349,356],"t":[18,37,24,15,32,3,27,14,40,8,33,19,1,36,22,11,43,39,38,37,38,39,34,38,37]},
{"x":49.5,"y":[0,11,23,34,45,55,66,78,88,99,111,122,132,144,155,166,180,210],"t":[6,30,17,38,25,2,12,35,20,9,41,28,5,16,31,0,23,21]},
{"x":50.0,"y":[6,16,27,38,50,59,71,82,92,104,115,127,138,149,160,171,185,230,260,271],"t":[39,13,26,7,34,21,42,10,29,4,18,37,24,15,32,3,27,31,33,40]},
{"x":50.46,"y":[0,12,22,33,44,56,67,77,89,100,110,121,133,144,155,166,180,220,250,296],"t":[14,40,8,33,19,1,36,22,11,43,6,30,17,38,25,2,12,32,33,22]},
{"x":51.05,"y":[5,15,28,37,48,60,71,81,93,104,116,126,137,148,159,170,181,190,230,260,300,316,337,349,366,375,392],"t":[35,20,9,41,28,5,16,31,0,23,39,13,26,7,34,21,42,10,8,17,41,39,2,28,27,18,22]},
{"x":51.63,"y":[0,11,22,34,45,55,66,78,88,99,110,122,133,144,155,166,177,190,230,270,320,367,397,414,441,477,523,540],"t":[29,4,18,37,24,15,32,3,27,14,40,8,33,19,1,36,22,11,38,39,41,38,41,39,38,2,37,38]},
{"x":52.1,"y":[6,17,27,38,50,59,70,82,93,104,115,126,137,148,159,170,181,192,200,240,280,320],"t":[43,6,30,17,38,25,2,12,35,20,9,41,28,5,16,31,0,23,39,22,38,37]},
{"x":52.54,"y":[0,12,22,33,44,56,67,77,89,100,110,122,133,144,155,166,177,188,200,240,280,310,333,349,366,378,390,402,415,427,439,452,464,476,489,500,510,518,530,538,550,558,578],"t":[13,26,7,34,21,42,10,29,4,18,37,24,15,32,3,27,14,40,8,22,38,23,21,24,39,40,22,24,28,21,37,20,26,38,23,22,18,24,22,39,17,22,22]},
{"x":53.0,"y":[5,15,28,37,49,61,70,81,92,104,115,126,137,148,159,170,181,190,230,260,290,333],"t":[33,19,1,36,22,11,43,6,30,17,38,25,2,12,35,20,9,41,11,24,38,6]},
{"x":53.4,"y":[0,11,23,34,45,55,66,77,89,99,111,122,133,144,155,166,180,220],"t":[28,5,16,31,0,23,39,13,26,7,34,21,42,10,29,4,18,38]},
{"x":53.73,"y":[6,16,27,38,50,60,72,82,93,104,115,127,138,149,160,171,180,220,242,268,285],"t":[37,24,15,32,3,27,14,40,8,33,19,1,36,22,11,43,6,20,8,22,7]},
{"x":54.1,"y":[0,12,22,34,44,56,66,78,88,100,110,122,133,144,155,170,200],"t":[30,17,38,25,2,12,35,20,9,41,28,5,16,31,0,23,19]},
{"x":54.4,"y":[5,15,28,37,48,60,71,82,92,105,115,126,138,149,165,180],"t":[39,13,26,7,34,21,42,10,29,4,18,37,24,15,32,14]},
{"x":54.8,"y":[0,11,22,33,45,56,67,77,88,99,111,122,133,144,155,170,210],"t":[3,27,14,40,8,33,19,1,36,22,11,43,6,30,17,38,15]},
{"x":55.13,"y":[6,17,26,38,49,60,71,81,93,104,116,126,137,149,160,171,180,220,245,265],"t":[38,25,2,12,35,20,9,41,28,5,16,31,0,23,39,13,26,14,20,17]},
{"x":55.5,"y":[0,12,22,34,44,55,66,77,89,100,110,122,133,144,155,166,180,220],"t":[7,34,21,42,10,29,4,18,37,24,15,32,3,27,14,40,8,12]},
{"x":55.9,"y":[5,15,28,37,50,60,71,82,92,104,115,127,138,149,160,170,180,210,240,270,287,296],"t":[33,19,1,36,22,11,43,6,30,17,38,25,2,12,35,20,9,13,26,42,28,17]},
{"x":56.3,"y":[0,11,23,34,45,55,67,78,88,99,110,122,133,150,180,210,240],"t":[41,28,5,16,31,0,23,39,13,26,7,34,21,11,10,12,14]},
{"x":56.6,"y":[6,16,27,38,49,61,70,82,93,100],"t":[42,10,29,4,18,37,24,15,32,3]},
{"x":56.83,"y":[0,11,22,34,45,59],"t":[27,14,40,8,33,1]}
]
},
"vconcat":[
{
"width":2114,"height":1153,
"layer":[
{"data":{"name":"chr2"},
"transform":[{"flatten":["y","t"]},{"lookup":"t","from":{"data":{"name":"traits"},"key":"i","fields":["trait"]},"default":"(OA+ALA)/(LA+PA)"}],
"mark":{"type":"circle","size":250,"opacity":1},
"encoding":{
"x":{"field":"x","type":"quantitative","scale":{"domain":[36.185,49.14],"nice":false,"zero":false},
"axis":{"title":null,"values":[36.5,37,37.5,38,38.5,39,39.5,40,40.5,41,41.5,42,42.5,43,43.5,44,44.5,45,45.5,46,46.5,47,47.5,48,48.5,49],"labelExpr":"datum.value % 1 === 0 ? format(datum.value * 1000000, ',') : ''","labelAngle":-90,"labelPadding":19,"gridWidth":{"condition":{"test":"datum.value % 1 !== 0","value":1.5},"value":3}}},
"y":{"field":"y","type":"quantitative","scale":{"domain":[-33,668],"nice":false,"zero":false},
"axis":{"title":"-log₁₀(p)","titleFontSize":50,"titlePadding":22,"titleY":702,"values":[0,100,200,300,400,500,600],"labelExpr":"datum.value % 200 === 0 ? format(datum.value / 100, 'd') : ''","labelPadding":18,"gridWidth":{"condition":{"test":"datum.value % 200 !== 0","value":1.5},"value":3}}},
"color":{"field":"trait","type":"nominal",
"scale":{"domain":["(OA+ALA)/(LA+PA)","(OA+ALA)/LA","(OA+ALA)/PA","(PA+ALA)/LA","(PA+OA)/(LA+ALA)","(PA+OA)/LA","(PA+OA+ALA)/LA","ALA % of FA","ALA % of Seed Weight","ALA/(OA+LA)","ALA/(PA+LA)","ALA/(PA+OA)","ALA/(PA+OA+LA)","ALA/LA","ALA/OA","ALA/PA","LA % of FA","LA % of Seed Weight","LA/(OA+ALA)","LA/(PA+ALA)","LA/(PA+OA)","LA/(PA+OA+ALA)","LA/ALA","LA/OA","LA/PA","OA % of FA","OA % of Seed Weight","OA/(LA+ALA)","OA/(PA+ALA)","OA/(PA+LA)","OA/(PA+LA+ALA)","OA/ALA","OA/LA","OA/PA","PA % of FA","PA % of Seed Weight","PA/(LA+ALA)","PA/(OA+ALA)","PA/(OA+LA)","PA/(OA+LA+ALA)","PA/ALA","PA/LA","PA/OA","Total FA % of Seed Weight"],
"range":["#F8766D","#F17C4F","#EA8232","#E38814","#DB8E00","#D09300","#C59800","#BB9D00","#ACA200","#9CA600","#8CAA00","#7CAE00","#5AB10F","#38B51F","#17B82E","#00BB40","#00BC56","#00BE6D","#00C084","#00C095","#00C0A5","#00BFB4","#00BFC4","#00BCD0","#00B9DC","#00B6E8","#09B2F1","#23ABF6","#3EA5FA","#589EFE","#7496FF","#8F8DFF","#AB85FF","#C77CFF","#D475F7","#E06FF0","#ED68E8","#F664DE","#F964D0","#FB64C3","#FE64B5","#FE67A4","#FC6C92","#FA717F"]},
"legend":{"orient":"none","legendX":1199,"legendY":28,"title":null,"columns":3,"symbolLimit":60,"symbolType":"circle","symbolSize":113,"symbolStrokeWidth":0,"symbolOpacity":1,"labelFontSize":21,"labelFont":"Liberation Sans","labelColor":"#000000","labelLimit":400,"labelOffset":31.5,"rowPadding":17.2,"columnPadding":28,"padding":16,"fillColor":"white"}}}},
{"data":{"values":[{}]},"mark":{"type":"rule","color":"#FF0000","strokeWidth":6,"strokeDash":[29,29]},"encoding":{"y":{"datum":500,"type":"quantitative"}}},
{"data":{"values":[{}]},"mark":{"type":"rule","color":"#0000FF","strokeWidth":6,"strokeDash":[6,23]},"encoding":{"y":{"datum":425,"type":"quantitative"}}},
{"data":{"values":[{}]},"mark":{"type":"text","text":"Chromosome 2","font":"Liberation Sans","fontSize":64,"fontWeight":"bold","align":"left","baseline":"alphabetic","color":"#000000"},"encoding":{"x":{"datum":36.6875,"type":"quantitative"},"y":{"datum":633,"type":"quantitative"}}},
{"data":{"values":[{}]},"mark":{"type":"text","text":"A","font":"Liberation Sans","fontSize":90,"fontWeight":"bold","align":"left","baseline":"alphabetic","color":"#000000"},"encoding":{"x":{"datum":35.319,"type":"quantitative"},"y":{"datum":625,"type":"quantitative"}}}
]
},
{
"width":2092,"height":1152,
"layer":[
{"data":{"name":"chr1"},
"transform":[{"flatten":["y","t"]},{"lookup":"t","from":{"data":{"name":"traits"},"key":"i","fields":["trait"]},"default":"(OA+ALA)/(LA+PA)"}],
"mark":{"type":"circle","size":250,"opacity":1},
"encoding":{
"x":{"field":"x","type":"quantitative","scale":{"domain":[-2.84,59.7],"nice":false,"zero":false},
"axis":{"title":"SNP positions on the chromosome","titleFontSize":54,"titlePadding":16,"titleX":1119,"values":[-2.5,0,2.5,5,7.5,10,12.5,15,17.5,20,22.5,25,27.5,30,32.5,35,37.5,40,42.5,45,47.5,50,52.5,55,57.5],"labelExpr":"datum.value % 5 === 0 ? format(datum.value * 1000000, ',') : ''","labelAngle":-90,"labelPadding":19,"gridWidth":{"condition":{"test":"datum.value % 5 !== 0","value":1.5},"value":3}}},
"y":{"field":"y","type":"quantitative","scale":{"domain":[-28,607],"nice":false,"zero":false},
"axis":{"title":"-log₁₀(p)","titleFontSize":50,"titlePadding":22,"titleY":540,"values":[0,100,200,300,400,500,600],"labelExpr":"datum.value % 200 === 0 ? format(datum.value / 100, 'd') : ''","labelPadding":18,"gridWidth":{"condition":{"test":"datum.value % 200 !== 0","value":1.5},"value":3}}},
"color":{"field":"trait","type":"nominal",
"scale":{"domain":["(OA+ALA)/(LA+PA)","(OA+ALA)/LA","(OA+ALA)/PA","(PA+ALA)/LA","(PA+OA)/(LA+ALA)","(PA+OA)/LA","(PA+OA+ALA)/LA","ALA % of FA","ALA % of Seed Weight","ALA/(OA+LA)","ALA/(PA+LA)","ALA/(PA+OA)","ALA/(PA+OA+LA)","ALA/LA","ALA/OA","ALA/PA","LA % of FA","LA % of Seed Weight","LA/(OA+ALA)","LA/(PA+ALA)","LA/(PA+OA)","LA/(PA+OA+ALA)","LA/ALA","LA/OA","LA/PA","OA % of FA","OA % of Seed Weight","OA/(LA+ALA)","OA/(PA+ALA)","OA/(PA+LA)","OA/(PA+LA+ALA)","OA/ALA","OA/LA","OA/PA","PA % of FA","PA % of Seed Weight","PA/(LA+ALA)","PA/(OA+ALA)","PA/(OA+LA)","PA/(OA+LA+ALA)","PA/ALA","PA/LA","PA/OA","Total FA % of Seed Weight"],
"range":["#F8766D","#F17C4F","#EA8232","#E38814","#DB8E00","#D09300","#C59800","#BB9D00","#ACA200","#9CA600","#8CAA00","#7CAE00","#5AB10F","#38B51F","#17B82E","#00BB40","#00BC56","#00BE6D","#00C084","#00C095","#00C0A5","#00BFB4","#00BFC4","#00BCD0","#00B9DC","#00B6E8","#09B2F1","#23ABF6","#3EA5FA","#589EFE","#7496FF","#8F8DFF","#AB85FF","#C77CFF","#D475F7","#E06FF0","#ED68E8","#F664DE","#F964D0","#FB64C3","#FE64B5","#FE67A4","#FC6C92","#FA717F"]},
"legend":null}}},
{"data":{"values":[{}]},"mark":{"type":"rule","color":"#FF0000","strokeWidth":6,"strokeDash":[29,29]},"encoding":{"y":{"datum":500,"type":"quantitative"}}},
{"data":{"values":[{}]},"mark":{"type":"rule","color":"#0000FF","strokeWidth":6,"strokeDash":[6,23]},"encoding":{"y":{"datum":425,"type":"quantitative"}}},
{"data":{"values":[{}]},"mark":{"type":"text","text":"Chromosome 1","font":"Liberation Sans","fontSize":64,"fontWeight":"bold","align":"left","baseline":"alphabetic","color":"#000000"},"encoding":{"x":{"datum":-0.478,"type":"quantitative"},"y":{"datum":539,"type":"quantitative"}}},
{"data":{"values":[{}]},"mark":{"type":"text","text":"B","font":"Liberation Sans","fontSize":90,"fontWeight":"bold","align":"left","baseline":"alphabetic","color":"#000000"},"encoding":{"x":{"datum":-7.16,"type":"quantitative"},"y":{"datum":574,"type":"quantitative"}}}
]
}
]
}
